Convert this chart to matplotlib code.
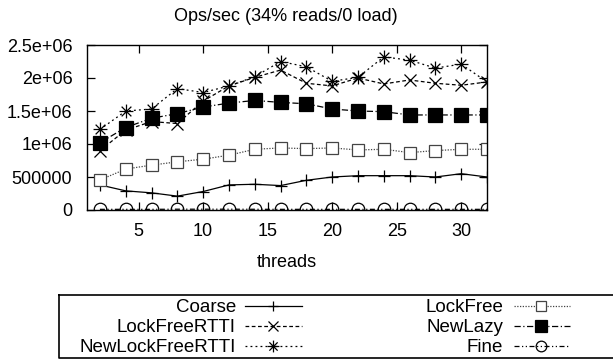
import matplotlib
matplotlib.use("Agg")
import matplotlib.pyplot as plt
from matplotlib.path import Path
from matplotlib.lines import Line2D

plt.rcParams['font.family'] = ['Liberation Sans', 'DejaVu Sans']

threads = [2, 4, 6, 8, 10, 12, 14, 16, 18, 20, 22, 24, 26, 28, 30, 32]
coarse = [380000, 290000, 260000, 210000, 280000, 380000, 390000, 370000,
          450000, 500000, 520000, 520000, 520000, 500000, 550000, 500000]
lockfree = [455000, 620000, 680000, 730000, 770000, 830000, 920000, 940000,
            930000, 940000, 910000, 920000, 870000, 900000, 920000, 920000]
lockfree_rtti = [900000, 1210000, 1340000, 1310000, 1650000, 1880000, 2010000, 2120000,
                 1920000, 1880000, 2000000, 1910000, 1970000, 1920000, 1890000, 1940000]
newlazy = [1020000, 1250000, 1390000, 1460000, 1560000, 1620000, 1660000, 1630000,
           1610000, 1530000, 1500000, 1490000, 1440000, 1440000, 1440000, 1440000]
new_lockfree_rtti = [1220000, 1500000, 1530000, 1840000, 1780000, 1880000, 2020000, 2250000,
                     2170000, 1950000, 2010000, 2320000, 2270000, 2150000, 2210000, 1940000]
fine = [10000, 10000, 10000, 12000, 12000, 12000, 11000, 10000,
        10000, 10000, 10000, 10000, 10000, 10000, 10000, 10000]

x_ticks = [5, 10, 15, 20, 25, 30]
y_ticks = [0, 500000, 1000000, 1500000, 2000000, 2500000]
y_tick_labels = ['0', '500000', '1e+06', '1.5e+06', '2e+06', '2.5e+06']

star = Path([(-1, 0), (1, 0), (0, -1), (0, 1), (-0.7, -0.7), (0.7, 0.7), (-0.7, 0.7), (0.7, -0.7)],
            [Path.MOVETO, Path.LINETO] * 4)

W, H = 613, 360
fig = plt.figure(figsize=(W / 100, H / 100), dpi=100)
ax = fig.add_axes([87 / W, 1 - 210 / H, 400 / W, 165 / H])

styles = [
    ('Coarse', coarse, dict(ls='-', marker='+', ms=8.5, mfc='none')),
    ('LockFree', lockfree, dict(ls=(0, (1, 1.2)), marker='s', ms=9, mfc='white', color='#444444')),
    ('LockFreeRTTI', lockfree_rtti, dict(ls=(0, (3, 2)), marker='x', ms=8.5, mfc='none')),
    ('NewLazy', newlazy, dict(ls=(0, (5, 2, 1, 2)), marker='s', ms=9.5, mfc='black')),
    ('NewLockFreeRTTI', new_lockfree_rtti, dict(ls=(0, (1.5, 2.5)), marker=star, ms=10, mfc='none')),
    ('Fine', fine, dict(ls=(0, (4, 2, 1, 2, 1, 2)), marker='o', ms=9, mfc='none')),
]

handles = {}
for name, vals, st in styles:
    kw = dict(color='black', lw=0.9, mew=0.9)
    kw.update(st)
    kw['mec'] = kw['color']
    ax.plot(threads, vals, **kw)
    handles[name] = kw

ax.set_xlim(1, 32)
ax.set_ylim(0, 2500000)
ax.set_xticks(x_ticks)
ax.set_yticks(y_ticks)
ax.set_yticklabels(y_tick_labels)
ax.tick_params(direction='in', length=6, width=0.9, top=True, right=True, labelsize=13)
ax.tick_params(axis='x', pad=9.5)
ax.tick_params(axis='y', pad=10.5)
for s in ax.spines.values():
    s.set_linewidth(1.0)
ax.set_xlabel('threads', fontsize=13, labelpad=10)
fig.text(286 / W, 1 - 16.5 / H, 'Ops/sec (34% reads/0 load)', ha='center', va='center', fontsize=13)

# legend drawn in a pixel-coordinate overlay axes
lax = fig.add_axes([0, 0, 1, 1])
lax.set_xlim(0, W)
lax.set_ylim(H, 0)
lax.axis('off')
lax.add_line(Line2D([58.5, 640, 640, 58.5, 58.5], [294.5, 294.5, 357.5, 357.5, 294.5], color='black', lw=1.2))
cols = [(236, 245, 302, 273), (503, 514, 570, 541)]
baselines = [312.5, 332.5, 352]
col_names = [['Coarse', 'LockFreeRTTI', 'NewLockFreeRTTI'], ['LockFree', 'NewLazy', 'Fine']]
for c, names in enumerate(col_names):
    tx, x0, x1, xm = cols[c]
    for r, name in enumerate(names):
        yb = baselines[r]
        y = yb - 6.5
        lax.text(tx, yb, name, ha='right', va='baseline', fontsize=13.5)
        kw = handles[name]
        lax.add_line(Line2D([x0, x1], [y, y], color=kw['color'], lw=kw['lw'], ls=kw['ls']))
        lax.add_line(Line2D([xm], [y], marker=kw['marker'], ms=kw['ms'] * 0.85, mfc=kw['mfc'],
                            mec=kw['mec'], mew=kw['mew'], ls='none'))

fig.savefig('out.png', dpi=100)
